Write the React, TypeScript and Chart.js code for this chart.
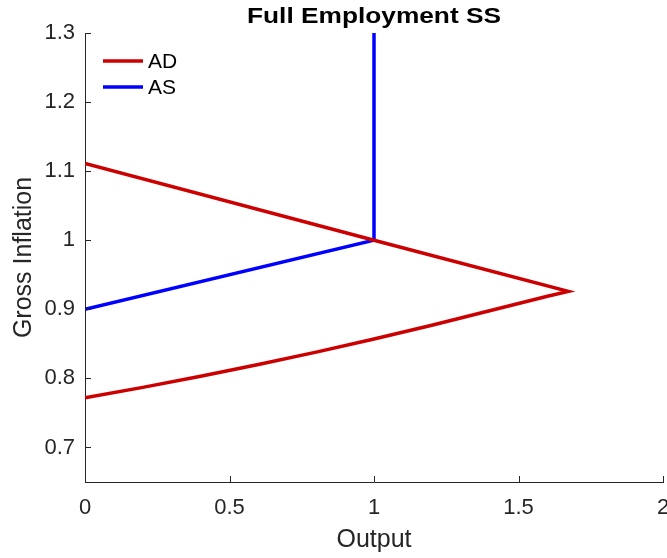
import React, { useEffect, useRef } from "react";
import { Chart, registerables } from "chart.js";

Chart.register(...registerables);

const titleText = "Full Employment SS";
const xAxisTitle = "Output";
const yAxisTitle = "Gross Inflation";

const adLabel = "AD";
const adX = [0, 1, 1.672, 1.6, 1.4, 1.2, 1.0, 0.8, 0.6, 0.4, 0.2, 0];
const adY = [1.111, 1.0, 0.926, 0.919, 0.898, 0.877, 0.857, 0.838, 0.82, 0.803, 0.787, 0.772];

const asLabel = "AS";
const asX = [0, 1, 1];
const asY = [0.9, 1.0, 1.3];

const xTicks = [0, 0.5, 1, 1.5, 2];
const xTickLabels = ["0", "0.5", "1", "1.5", "2"];
const yTicks = [0.7, 0.8, 0.9, 1.0, 1.1, 1.2, 1.3];
const yTickLabels = ["0.7", "0.8", "0.9", "1", "1.1", "1.2", "1.3"];

const FONT = "'Liberation Sans', Arial, Helvetica, sans-serif";
const AXIS_COLOR = "#262626";

const decorPlugin = {
  id: "decor",
  afterDraw(chart: any) {
    const ctx = chart.ctx;
    const area = chart.chartArea;
    const xs = chart.scales.x;
    const ys = chart.scales.y;
    ctx.save();
    // inward tick marks
    ctx.strokeStyle = AXIS_COLOR;
    ctx.lineWidth = 1;
    ctx.beginPath();
    xTicks.forEach((v) => {
      const px = Math.round(xs.getPixelForValue(v)) + 0.5;
      ctx.moveTo(px, area.bottom);
      ctx.lineTo(px, area.bottom - 6);
    });
    yTicks.forEach((v) => {
      const py = Math.round(ys.getPixelForValue(v)) + 0.5;
      ctx.moveTo(area.left, py);
      ctx.lineTo(area.left + 6, py);
    });
    ctx.stroke();

    // title (slightly widened to match the reference rendering)
    ctx.fillStyle = "#000000";
    ctx.font = `bold 22px ${FONT}`;
    ctx.textAlign = "center";
    ctx.textBaseline = "alphabetic";
    const w = ctx.measureText(titleText).width;
    const sx = 254 / w;
    ctx.save();
    ctx.translate((area.left + area.right) / 2, 23);
    ctx.scale(sx, 1);
    ctx.fillText(titleText, 0, 0);
    ctx.restore();

    // legend
    const items = chart.data.datasets;
    ctx.font = `21px ${FONT}`;
    ctx.textAlign = "left";
    ctx.textBaseline = "middle";
    items.forEach((ds: any, i: number) => {
      const y = area.top + 28 + i * 26;
      ctx.strokeStyle = ds.borderColor;
      ctx.lineWidth = 3.5;
      ctx.beginPath();
      ctx.moveTo(area.left + 18, y);
      ctx.lineTo(area.left + 58, y);
      ctx.stroke();
      ctx.fillStyle = "#000000";
      ctx.fillText(ds.label, area.left + 63, y + 1);
    });
    ctx.restore();
  },
};

export default function App() {
  const ref = useRef<HTMLCanvasElement>(null);

  useEffect(() => {
    document.body.style.margin = "0";
    const canvas = ref.current;
    if (!canvas) return;
    const chart = new Chart(canvas, {
      type: "scatter",
      data: {
        datasets: [
          {
            label: adLabel,
            data: adX.map((x, i) => ({ x, y: adY[i] })),
            showLine: true,
            borderColor: "#CC0000",
            backgroundColor: "#CC0000",
            borderWidth: 3.5,
            pointRadius: 0,
            tension: 0,
          },
          {
            label: asLabel,
            data: asX.map((x, i) => ({ x, y: asY[i] })),
            showLine: true,
            borderColor: "#0000FF",
            backgroundColor: "#0000FF",
            borderWidth: 3.5,
            pointRadius: 0,
            tension: 0,
          },
        ],
      },
      options: {
        responsive: false,
        animation: false,
        events: [],
        layout: { padding: { top: 33, right: 4, bottom: 0, left: 0 } },
        plugins: {
          legend: { display: false },
          title: { display: false },
          tooltip: { enabled: false },
        },
        scales: {
          x: {
            type: "linear",
            min: 0,
            max: 2,
            afterBuildTicks: (scale: any) => {
              scale.ticks = xTicks.map((v) => ({ value: v }));
            },
            afterFit: (scale: any) => {
              scale.height = 76;
              scale.paddingLeft = 0;
              scale.paddingRight = 0;
            },
            grid: { display: false, drawTicks: false },
            border: { display: true, color: AXIS_COLOR, width: 1 },
            ticks: {
              padding: 13,
              maxRotation: 0,
              autoSkip: false,
              color: AXIS_COLOR,
              font: { family: FONT, size: 22 },
              callback: (_v: any, i: number) => xTickLabels[i],
            },
            title: {
              display: true,
              text: xAxisTitle,
              color: AXIS_COLOR,
              font: { family: FONT, size: 25 },
              padding: 3,
            },
          },
          y: {
            type: "linear",
            min: 0.65,
            max: 1.3,
            afterBuildTicks: (scale: any) => {
              scale.ticks = yTicks.map((v) => ({ value: v }));
            },
            afterFit: (scale: any) => {
              scale.width = 85;
              scale.paddingTop = 0;
              scale.paddingBottom = 0;
            },
            grid: { display: false, drawTicks: false },
            border: { display: true, color: AXIS_COLOR, width: 1 },
            ticks: {
              padding: 10,
              autoSkip: false,
              color: AXIS_COLOR,
              font: { family: FONT, size: 22 },
              callback: (_v: any, i: number) => yTickLabels[i],
            },
            title: {
              display: true,
              text: yAxisTitle,
              color: AXIS_COLOR,
              font: { family: FONT, size: 25 },
              padding: 9,
            },
          },
        },
      },
      plugins: [decorPlugin],
    });
    return () => chart.destroy();
  }, []);

  return (
    <canvas
      ref={ref}
      width={667}
      height={558}
      style={{ position: "absolute", left: 0, top: 0, width: 667, height: 558 }}
    />
  );
}
